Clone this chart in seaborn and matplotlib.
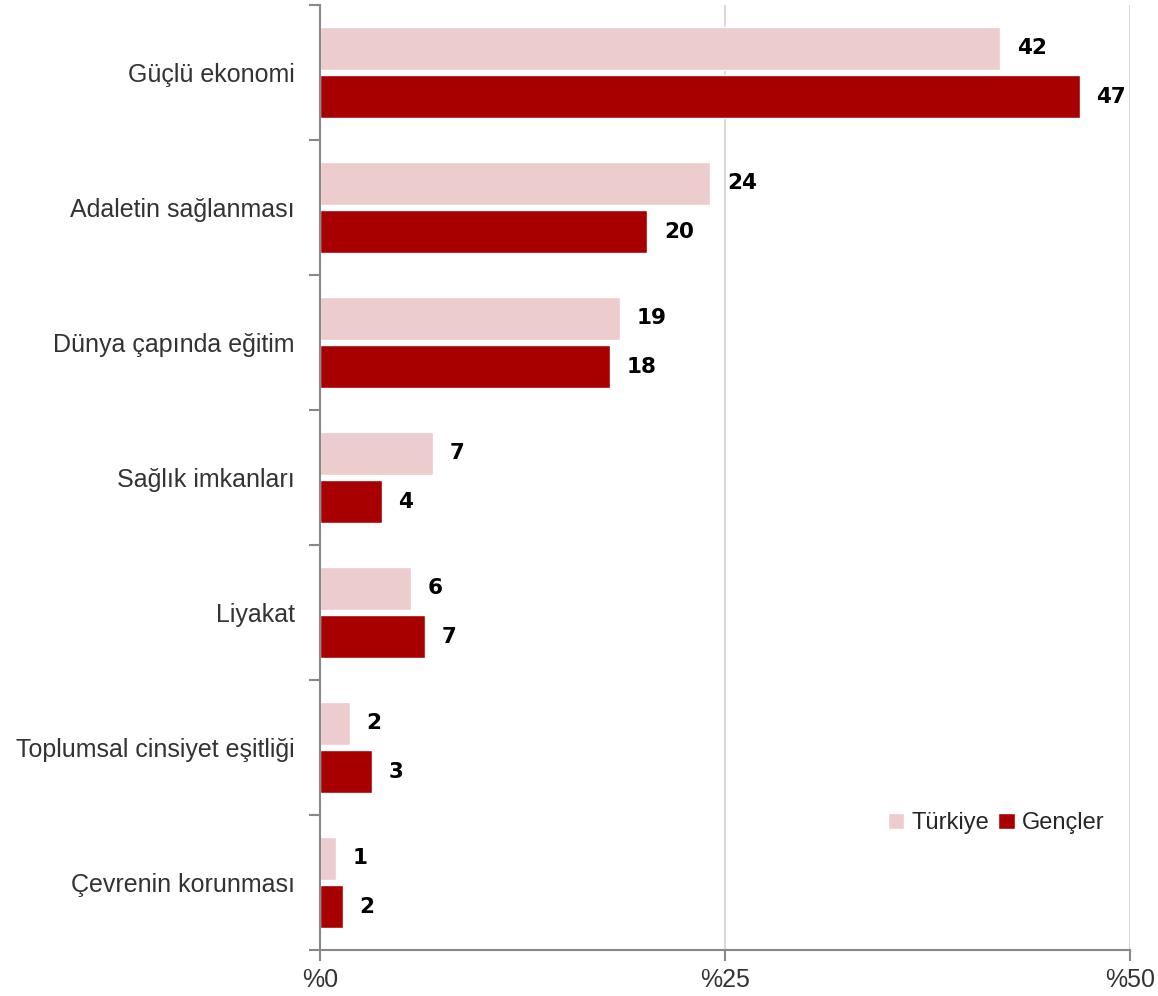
import pandas as pd
import seaborn as sns
import matplotlib.pyplot as plt
from matplotlib.ticker import FixedLocator

categories = ["Güçlü ekonomi", "Adaletin sağlanması", "Dünya çapında eğitim",
              "Sağlık imkanları", "Liyakat", "Toplumsal cinsiyet eşitliği",
              "Çevrenin korunması"]
turkiye = [42.0, 24.1, 18.5, 7.0, 5.6, 1.85, 1.0]
gencler = [46.9, 20.2, 17.9, 3.8, 6.5, 3.2, 1.4]
turkiye_labels = ["42", "24", "19", "7", "6", "2", "1"]
gencler_labels = ["47", "20", "18", "4", "7", "3", "2"]
series = ["Türkiye", "Gençler"]
colors = ["#ECCCCC", "#A80000"]
x_ticks = [0, 25, 50]

df = pd.DataFrame({
    "kategori": categories * 2,
    "deger": turkiye + gencler,
    "seri": [series[0]] * len(categories) + [series[1]] * len(categories),
    "etiket": turkiye_labels + gencler_labels,
})

sns.set_theme(style="white")
plt.rcParams["font.family"] = ["Liberation Sans", "DejaVu Sans"]

fig = plt.figure(figsize=(11.58, 9.96), dpi=100)
ax = fig.add_axes([0.2763, 0.0462, 0.6995, 0.9488])

sns.barplot(data=df, x="deger", y="kategori", hue="seri", order=categories,
            hue_order=series, palette=colors, width=0.72, gap=0.11,
            saturation=1, errorbar=None, ax=ax)

# value labels next to bar ends
for cont, s in zip(ax.containers, series):
    labs = df[df["seri"] == s]["etiket"].tolist()
    ax.bar_label(cont, labels=labs, padding=12, fontsize=15.5,
                 fontweight="heavy", color="black", family="DejaVu Sans")

ax.set_xlim(0, 50)
ax.set_ylim(len(categories) - 0.5, -0.5)
ax.set_xticks(x_ticks)
ax.set_xticklabels([f"%{t}" for t in x_ticks], fontsize=18, color="#333333")
ax.tick_params(axis="x", length=8, width=1.5, color="#888888", pad=5,
               direction="out", bottom=True)
ax.tick_params(axis="y", which="major", length=0, pad=18, labelsize=18,
               labelcolor="#333333")
ax.yaxis.set_minor_locator(FixedLocator([i - 0.5 for i in range(len(categories) + 1)]))
ax.tick_params(axis="y", which="minor", length=8, width=1.5, color="#888888",
               direction="out", left=True)
ax.set_xlabel("")
ax.set_ylabel("")

for t in x_ticks[1:]:
    ax.axvline(t, color="#D9D9D9", lw=1.5, zorder=0)

for side in ["top", "right"]:
    ax.spines[side].set_visible(False)
for side in ["left", "bottom"]:
    ax.spines[side].set_color("#888888")
    ax.spines[side].set_linewidth(1.5)

ax.legend(loc="lower right", bbox_to_anchor=(0.995, 0.10), frameon=False,
          ncol=2, fontsize=17, handlelength=0.7, handleheight=0.7,
          handletextpad=0.3, columnspacing=0.4)

fig.savefig("out.png", dpi=100)
